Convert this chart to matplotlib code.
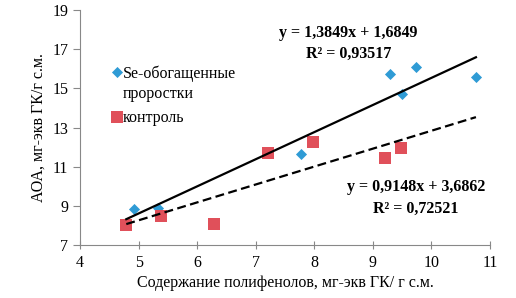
import matplotlib
matplotlib.use("Agg")
import matplotlib.pyplot as plt
import numpy as np

plt.rcParams['font.family'] = ['Liberation Serif', 'DejaVu Serif']

# Data
se_x = [4.93, 5.33, 7.78, 9.30, 9.50, 9.74, 10.76]
se_y = [8.85, 8.90, 11.63, 15.72, 14.70, 16.08, 15.58]
ctrl_x = [4.79, 5.38, 6.29, 7.21, 7.97, 9.21, 9.48]
ctrl_y = [8.02, 8.50, 8.08, 11.70, 12.27, 11.42, 11.93]
se_fit = [1.3849, 1.6849]
ctrl_fit = [0.9148, 3.6862]
se_label = ["Se-обогащенные", "проростки"]
ctrl_label = "контроль"
eq_se = "y = 1,3849x + 1,6849\nR² = 0,93517"
eq_ctrl = "y = 0,9148x + 3,6862\nR² = 0,72521"
xticks = [4, 5, 6, 7, 8, 9, 10, 11]
yticks = [7, 9, 11, 13, 15, 17, 19]

fig = plt.figure(figsize=(5.16, 2.98), dpi=100)
ax = fig.add_axes([80/516, 1 - 245/298, (490-80)/516, (245-10)/298])

blue = '#2F9BD5'
red = '#E0505A'

ax.scatter(se_x, se_y, marker='D', s=32, color=blue, zorder=3, linewidths=0)
ax.scatter(ctrl_x, ctrl_y, marker='s', s=70, color=red, zorder=3, linewidths=0)

xmin = min(min(se_x), min(ctrl_x))
xmax = max(max(se_x), max(ctrl_x))
xl = np.array([xmin, xmax])
ax.plot(xl, se_fit[0]*xl + se_fit[1], color='black', lw=1.6, zorder=4)
ax.plot(xl, ctrl_fit[0]*xl + ctrl_fit[1], color='black', lw=1.6, ls=(0, (4, 2)), zorder=4)

ax.set_xlim(4, 11)
ax.set_ylim(7, 19)
ax.set_xticks(xticks)
ax.set_yticks(yticks)
ax.tick_params(labelsize=11.5, color='#888888', length=5, width=0.8)
ax.tick_params(axis='x', direction='inout', length=6, pad=4)
for s in ['top', 'right']:
    ax.spines[s].set_visible(False)
for s in ['left', 'bottom']:
    ax.spines[s].set_color('#888888')
    ax.spines[s].set_linewidth(0.8)

ax.set_xlabel("Содержание полифенолов, мг-экв ГК/ г с.м.", fontsize=11.5, labelpad=3)
ax.set_ylabel("АОА, мг-экв ГК/г с.м.", fontsize=11.5, labelpad=4)

# legend (manual, in axes data coordinates)
ax.scatter([4.64], [15.83], marker='D', s=32, color=blue, linewidths=0, clip_on=False)
ax.text(4.73, 15.72, se_label[0], fontsize=11.5, va='center', ha='left')
ax.text(4.73, 14.70, se_label[1], fontsize=11.5, va='center', ha='left')
ax.scatter([4.64], [13.55], marker='s', s=70, color=red, linewidths=0, clip_on=False)
ax.text(4.73, 13.50, ctrl_label, fontsize=11.5, va='center', ha='left')

ax.text(8.58, 18.25, eq_se, fontsize=11.5, fontweight='bold', ha='center', va='top', linespacing=1.45)
ax.text(9.74, 10.35, eq_ctrl, fontsize=11.5, fontweight='bold', ha='center', va='top', linespacing=1.45)

fig.savefig("out.png", dpi=100)
